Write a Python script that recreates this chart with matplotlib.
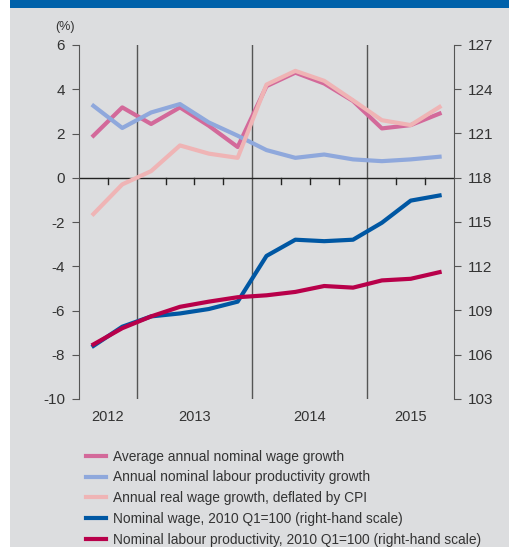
import numpy as np
import matplotlib.pyplot as plt
from matplotlib.patches import Rectangle

plt.rcParams['font.family'] = ['Liberation Sans Narrow', 'Liberation Sans', 'DejaVu Sans']
plt.rcParams['axes.unicode_minus'] = False

# quarters 2012 Q3 .. 2015 Q3
quarters = ['2012Q3', '2012Q4', '2013Q1', '2013Q2', '2013Q3', '2013Q4',
            '2014Q1', '2014Q2', '2014Q3', '2014Q4', '2015Q1', '2015Q2', '2015Q3']
years = ['2012', '2013', '2014', '2015']
year_pos = [0.5, 3.5, 7.5, 11]
year_bounds = [1.5, 5.5, 9.5]

avg_wage_growth = [1.9, 3.18, 2.43, 3.18, 2.35, 1.39, 4.14, 4.75, 4.26, 3.47, 2.23, 2.38, 2.9]
prod_growth = [3.25, 2.25, 2.95, 3.33, 2.5, 1.9, 1.25, 0.9, 1.05, 0.83, 0.75, 0.83, 0.95]
real_wage_growth = [-1.64, -0.3, 0.3, 1.46, 1.09, 0.9, 4.21, 4.83, 4.38, 3.5, 2.6, 2.38, 3.2]
nominal_wage = [106.6, 107.9, 108.6, 108.8, 109.1, 109.6, 112.7, 113.8, 113.7, 113.8, 114.95, 116.45, 116.8]
nominal_prod = [106.7, 107.8, 108.6, 109.25, 109.6, 109.9, 110.03, 110.26, 110.66, 110.55, 111.04, 111.15, 111.6]

labels = ['Average annual nominal wage growth',
          'Annual nominal labour productivity growth',
          'Annual real wage growth, deflated by CPI',
          'Nominal wage, 2010 Q1=100 (right-hand scale)',
          'Nominal labour productivity, 2010 Q1=100 (right-hand scale)']
colors = ['#d3699a', '#8fa8dc', '#efb4b5', '#0057a3', '#b8004a']

bg = '#dcdddf'
txt = '#333333'

W, H = 509, 547
fig = plt.figure(figsize=(W / 100, H / 100), dpi=100)
fig.patch.set_facecolor('white')
fig.add_artist(Rectangle((10 / W, 0), 1 - 10 / W, 1, transform=fig.transFigure,
                         facecolor=bg, edgecolor='none', zorder=-10))
fig.add_artist(Rectangle((10 / W, 1 - 8 / H), 1 - 10 / W, 8 / H, transform=fig.transFigure,
                         facecolor='#0061aa', edgecolor='none', zorder=-9))

ax = fig.add_axes([79 / W, 1 - 399 / H, (454 - 79) / W, (399 - 45) / H])
ax.set_facecolor('none')
ax2 = ax.twinx()

x = np.arange(len(quarters))
lw = 3.0
h = []
h += ax.plot(x, avg_wage_growth, color=colors[0], lw=lw, zorder=3)
h += ax.plot(x, prod_growth, color=colors[1], lw=lw, zorder=3)
h += ax.plot(x, real_wage_growth, color=colors[2], lw=lw, zorder=4)
h += ax2.plot(x, nominal_wage, color=colors[3], lw=lw, zorder=3)
h += ax2.plot(x, nominal_prod, color=colors[4], lw=lw, zorder=4)

ax.set_xlim(-0.5, 12.5)
ax.set_ylim(-10, 6)
ax2.set_ylim(103, 127)
ax.set_yticks(np.arange(-10, 7, 2))
ax2.set_yticks(np.arange(103, 128, 3))

for b in year_bounds:
    ax.axvline(b, color='#555555', lw=1.0, zorder=1)
ax.axhline(0, color='#222222', lw=1.0, zorder=2)
# quarter ticks on the zero line
for q in np.arange(0.5, 12.5, 1.0):
    if q not in year_bounds:
        ax.plot([q, q], [0, -0.3], color='#222222', lw=1.0, zorder=2)

for s in ['top', 'bottom']:
    ax.spines[s].set_visible(False)
    ax2.spines[s].set_visible(False)
ax.spines['right'].set_visible(False)
ax.spines['left'].set_color('#555555')
ax2.spines['left'].set_visible(False)
ax2.spines['right'].set_color('#555555')

ax.set_xticks(year_pos)
ax.set_xticklabels(years)
ax.tick_params(axis='x', length=0, pad=8, labelsize=10.5, labelcolor=txt)
ax.tick_params(axis='y', length=5, pad=5, color='#555555', labelsize=11, labelcolor=txt)
ax2.tick_params(axis='y', length=5, pad=5, color='#555555', labelsize=11, labelcolor=txt)

fig.text(55 / W, 1 - 27 / H, '(%)', fontsize=9, color=txt, va='center', ha='left')

leg = fig.legend(h, labels, loc='upper left', bbox_to_anchor=(80 / W, 1 - 444 / H),
                 frameon=False, fontsize=9.9, handlelength=1.5, handletextpad=0.5,
                 labelspacing=0.5, borderaxespad=0)
for t in leg.get_texts():
    t.set_color(txt)

fig.savefig('out.png', dpi=100, facecolor=fig.get_facecolor())
